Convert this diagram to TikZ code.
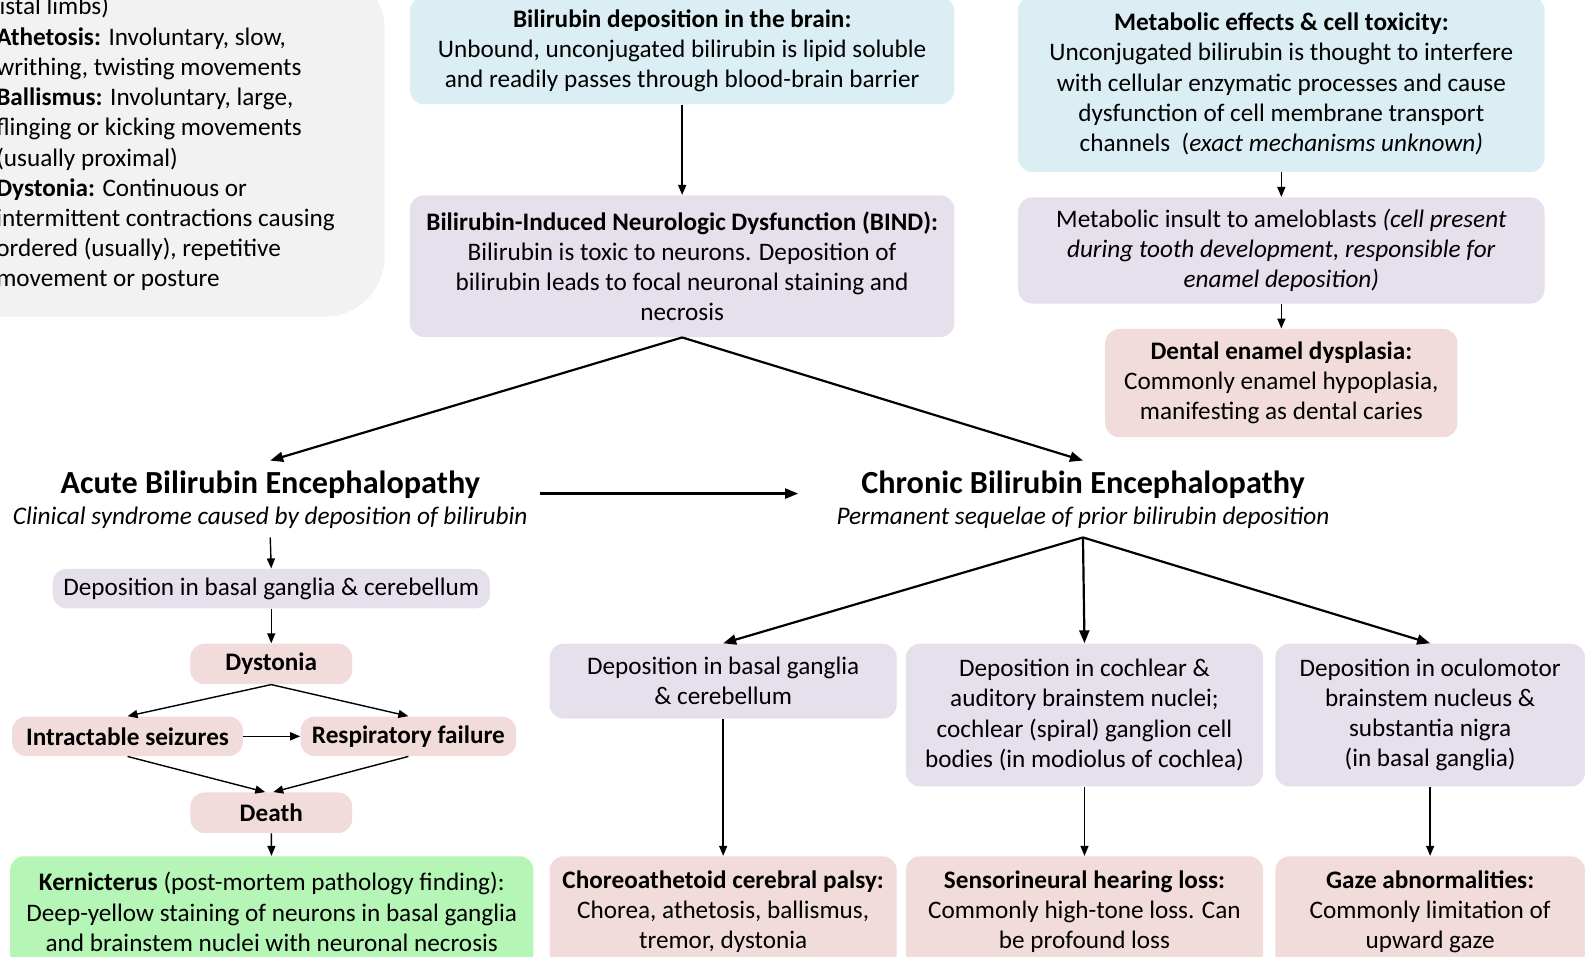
\documentclass[tikz,border=0pt]{standalone}
\usepackage{fontspec}
\setmainfont{Carlito}
\usetikzlibrary{arrows.meta}
\definecolor{cblue}{HTML}{DAEEF3}
\definecolor{cpurple}{HTML}{E5E0EC}
\definecolor{cpink}{HTML}{F2DCDB}
\definecolor{cgreen}{HTML}{B5F5B5}
\definecolor{cgray}{HTML}{F2F2F2}
\begin{document}
\begin{tikzpicture}[x=0.506pt,y=-0.506pt,
  every node/.style={font=\fontsize{12.6pt}{15.1pt}\selectfont, align=center, inner sep=0pt, text=black},
  bx/.style n args={3}{rounded corners=7pt, fill=#1, minimum width=#2*0.506pt, minimum height=#3*0.506pt},
  head/.style={font=\fontsize{16.1pt}{19pt}\selectfont\bfseries},
  sub/.style={font=\fontsize{12.65pt}{15pt}\selectfont\itshape},
  thinarr/.style={-{Triangle[length=5pt,width=4pt]}, line width=0.7pt},
  thickarr/.style={-{Triangle[length=6.5pt,width=5pt]}, line width=1.1pt}
]
\useasboundingbox (0,0) rectangle (1568,945);
\clip (0,0) rectangle (1568,945);

% legend box (cut off)
\node[rounded corners=30pt, fill=cgray, minimum width=440*0.506pt, minimum height=344*0.506pt] (legend) at (160,141) {};
\node[anchor=west, align=left] (legendtxt) at (-4,142) {\hspace*{-5pt}distal limbs)\\
\textbf{Athetosis:} Involuntary, slow,\\
writhing, twisting movements\\
\textbf{Ballismus:} Involuntary, large,\\
flinging or kicking movements\\
(usually proximal)\\
\textbf{Dystonia:} Continuous or\\
intermittent contractions causing\\
ordered (usually), repetitive\\
movement or posture};

% top middle column
\node[bx={cblue}{538}{106}] (top1) at (674,50) {\textbf{Bilirubin deposition in the brain:}\\Unbound, unconjugated bilirubin is lipid soluble\\and readily passes through blood-brain barrier};
\node[bx={cpurple}{538}{140}] (bind) at (674,263) {\textbf{Bilirubin-Induced Neurologic Dysfunction (BIND):}\\Bilirubin is toxic to neurons. Deposition of\\bilirubin leads to focal neuronal staining and\\necrosis};

% top right column
\node[bx={cblue}{520}{174}] (top2) at (1266,83) {\textbf{Metabolic effects \& cell toxicity:}\\Unconjugated bilirubin is thought to interfere\\with cellular enzymatic processes and cause\\dysfunction of cell membrane transport\\channels\ \ (\textit{exact mechanisms unknown)}};
\node[bx={cpurple}{520}{105}] (insult) at (1266,247.5) {Metabolic insult to ameloblasts \textit{(cell present}\\\textit{during tooth development, responsible for}\\\textit{enamel deposition)}};
\node[bx={cpink}{348}{107}] (dental) at (1266,378.5) {\textbf{Dental enamel dysplasia:}\\Commonly enamel hypoplasia,\\manifesting as dental caries};

% headings
\node[head] (acuteT) at (267,479) {Acute Bilirubin Encephalopathy};
\node[sub] (acuteS) at (267,512) {Clinical syndrome caused by deposition of bilirubin};
\node[head] (chronicT) at (1070,479) {Chronic Bilirubin Encephalopathy};
\node[sub] (chronicS) at (1070,512) {Permanent sequelae of prior bilirubin deposition};

% acute column
\node[bx={cpurple}{432}{39}] (dep1) at (268,581.5) {Deposition in basal ganglia \& cerebellum};
\node[bx={cpink}{160}{40}] (dyst) at (268,656) {\textbf{Dystonia}};
\node[bx={cpink}{228}{39}] (intract) at (126,727.5) {\textbf{Intractable seizures}};
\node[bx={cpink}{213}{39}] (resp) at (403.5,727.5) {\textbf{Respiratory failure}};
\node[bx={cpink}{160}{40}] (death) at (268,803) {\textbf{Death}};
\node[bx={cgreen}{517}{110}] (kern) at (268.5,901) {\textbf{Kernicterus} (post-mortem pathology finding):\\Deep-yellow staining of neurons in basal ganglia\\and brainstem nuclei with neuronal necrosis};

% chronic column
\node[bx={cpurple}{343}{74}] (basal2) at (714.5,673) {Deposition in basal ganglia\\\& cerebellum};
\node[bx={cpurple}{353}{141}] (coch) at (1071.5,706.5) {Deposition in cochlear \&\\auditory brainstem nuclei;\\cochlear (spiral) ganglion cell\\bodies (in modiolus of cochlea)};
\node[bx={cpurple}{306}{141}] (oculo) at (1413,706.5) {Deposition in oculomotor\\brainstem nucleus \&\\substantia nigra\\(in basal ganglia)};
\node[bx={cpink}{343}{110}] (choreo) at (714.5,901) {\textbf{Choreoathetoid cerebral palsy:}\\Chorea, athetosis, ballismus,\\tremor, dystonia};
\node[bx={cpink}{353}{110}] (sensor) at (1071.5,901) {\textbf{Sensorineural hearing loss:}\\Commonly high-tone loss. Can\\be profound loss};
\node[bx={cpink}{306}{110}] (gaze) at (1413,901) {\textbf{Gaze abnormalities:}\\Commonly limitation of\\upward gaze};

% connectors
\draw[line width=0.7pt] (top1.north) -- ++(0,-20);
\draw[line width=0.7pt] (top2.north) -- ++(0,-20);
\draw[thinarr] (top1) -- (bind);
\draw[thinarr] (top2) -- (insult);
\draw[thinarr] (insult) -- (dental);
\draw[thickarr] (bind.south) -- ([yshift=5pt]acuteT.north);
\draw[thickarr] (bind.south) -- ([yshift=5pt]chronicT.north);
\draw[thickarr] ([xshift=6pt]acuteT.base -| acuteS.east) -- ([xshift=-19pt]chronicT.base -| chronicS.west);
\draw[thinarr] ([yshift=-4pt]acuteS.south) -- (dep1.north);
\draw[thinarr] (dep1) -- (dyst);
\draw[thinarr] (dyst.south) -- (intract.north);
\draw[thinarr] (dyst.south) -- (resp.north);
\draw[thinarr] (intract) -- (resp);
\draw[thinarr] (intract.south) -- ([xshift=-3pt]death.north);
\draw[thinarr] (resp.south) -- ([xshift=1pt]death.north);
\draw[thinarr] (death) -- (kern);
\draw[thickarr] ([yshift=-4pt]chronicS.south) -- (basal2.north);
\draw[thickarr] ([yshift=-4pt]chronicS.south) -- (coch.north);
\draw[thickarr] ([yshift=-4pt]chronicS.south) -- (oculo.north);
\draw[thinarr] (basal2) -- (choreo);
\draw[thinarr] (coch) -- (sensor);
\draw[thinarr] (oculo) -- (gaze);
\end{tikzpicture}
\end{document}
